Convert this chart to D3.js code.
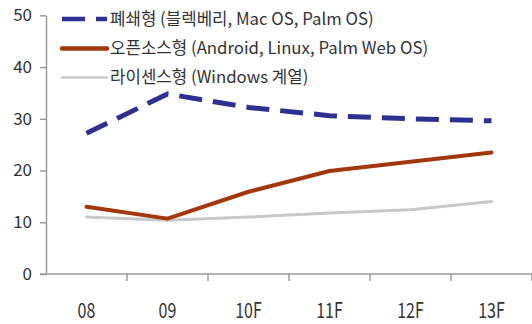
<!DOCTYPE html>
<html>
<head>
<meta charset="utf-8">
<script src="https://cdn.jsdelivr.net/npm/d3@7"></script>
<style>
  html, body { margin: 0; padding: 0; background: #fff; }
  svg { display: block; font-family: "Noto Sans CJK KR", "Noto Sans", sans-serif; }
</style>
</head>
<body>
<svg id="chart" width="532" height="324"></svg>
<script>
// categories (years, F = forecast)
const years = ['08', '09', '10F', '11F', '12F', '13F'];
const yTicks = [0, 10, 20, 30, 40, 50];

// series values
const closedOS = [27.2, 34.8, 32.2, 30.6, 30.0, 29.6];
const openOS = [13.0, 10.7, 15.9, 19.9, 21.7, 23.5];
const licenseOS = [11.0, 10.4, 11.0, 11.8, 12.4, 14.0];

const seriesNames = [
    '폐쇄형 (블렉베리, Mac OS, Palm OS)',
    '오픈소스형 (Android, Linux, Palm Web OS)',
    '라이센스형 (Windows 계열)'
];

const size = { left: 46, right: 532, top: 15.3, bottom: 274 };

const svg = d3.select('#chart');

const xScale = d3.scaleBand().domain(years).range([size.left, size.right]);
const yScale = d3.scaleLinear().domain([0, 50]).range([size.bottom, size.top]);

const axisColor = '#9a9a9a';

// y axis
const yAxis = svg.append('g')
    .attr('class', 'y axis')
    .attr('transform', 'translate(' + size.left + ',0)')
    .call(d3.axisLeft(yScale).tickValues(yTicks).tickSizeInner(6).tickSizeOuter(0).tickPadding(8));

yAxis.selectAll('path, line').attr('stroke', axisColor).attr('stroke-width', 1.5);
yAxis.selectAll('.tick text')
    .attr('font-size', 17)
    .attr('fill', '#333')
    .attr('font-family', 'Noto Sans CJK KR');

// x axis, ticks between categories
const xAxis = svg.append('g')
    .attr('class', 'x axis')
    .attr('transform', 'translate(0,' + size.bottom + ')');

xAxis.append('line')
    .attr('x1', size.left - 6)
    .attr('x2', size.right)
    .attr('stroke', axisColor)
    .attr('stroke-width', 1.5);

xAxis.selectAll('line.sep')
    .data(years)
    .enter()
    .append('line')
    .attr('class', 'sep')
    .attr('x1', d => xScale(d) + xScale.bandwidth())
    .attr('x2', d => xScale(d) + xScale.bandwidth())
    .attr('y1', 0)
    .attr('y2', 7)
    .attr('stroke', axisColor)
    .attr('stroke-width', 1.5);

xAxis.selectAll('text')
    .data(years)
    .enter()
    .append('text')
    .text(d => d)
    .attr('transform', d => 'translate(' + (xScale(d) + xScale.bandwidth() / 2) + ',' + 44 + ') scale(1,1.3)')
    .attr('text-anchor', 'middle')
    .attr('font-size', 16)
    .attr('fill', '#333');

// lines
const cx = d => xScale(d) + xScale.bandwidth() / 2;

const styles = [
    { color: '#2e3192', width: 5, dash: '23,11', cap: 'butt' },
    { color: '#a3370c', width: 4, dash: null, cap: 'round' },
    { color: '#c8c8c8', width: 3, dash: null, cap: 'round' }
];

const allSeries = [closedOS, openOS, licenseOS];

const line = d3.line()
    .x((d, i) => cx(years[i]))
    .y(d => yScale(d));

// draw gray first, then red, then blue on top
[2, 1, 0].forEach(k => {
    svg.append('path')
        .datum(allSeries[k])
        .attr('d', line)
        .attr('fill', 'none')
        .attr('stroke', styles[k].color)
        .attr('stroke-width', styles[k].width)
        .attr('stroke-dasharray', styles[k].dash)
        .attr('stroke-linecap', styles[k].cap)
        .attr('stroke-linejoin', 'round');
});

// legend
const legend = svg.append('g').attr('class', 'legend');
const rowY = [19, 48.5, 77.5];

seriesNames.forEach((name, i) => {
    legend.append('line')
        .attr('x1', 62)
        .attr('x2', 107)
        .attr('y1', rowY[i])
        .attr('y2', rowY[i])
        .attr('stroke', styles[i].color)
        .attr('stroke-width', i === 2 ? 2.5 : 4.5)
        .attr('stroke-dasharray', styles[i].dash)
        .attr('stroke-linecap', styles[i].cap);

    legend.append('text')
        .text(name)
        .attr('x', 110)
        .attr('y', rowY[i])
        .attr('dy', '0.35em')
        .attr('font-size', 16.8)
        .attr('fill', '#333');
});
</script>
</body>
</html>
